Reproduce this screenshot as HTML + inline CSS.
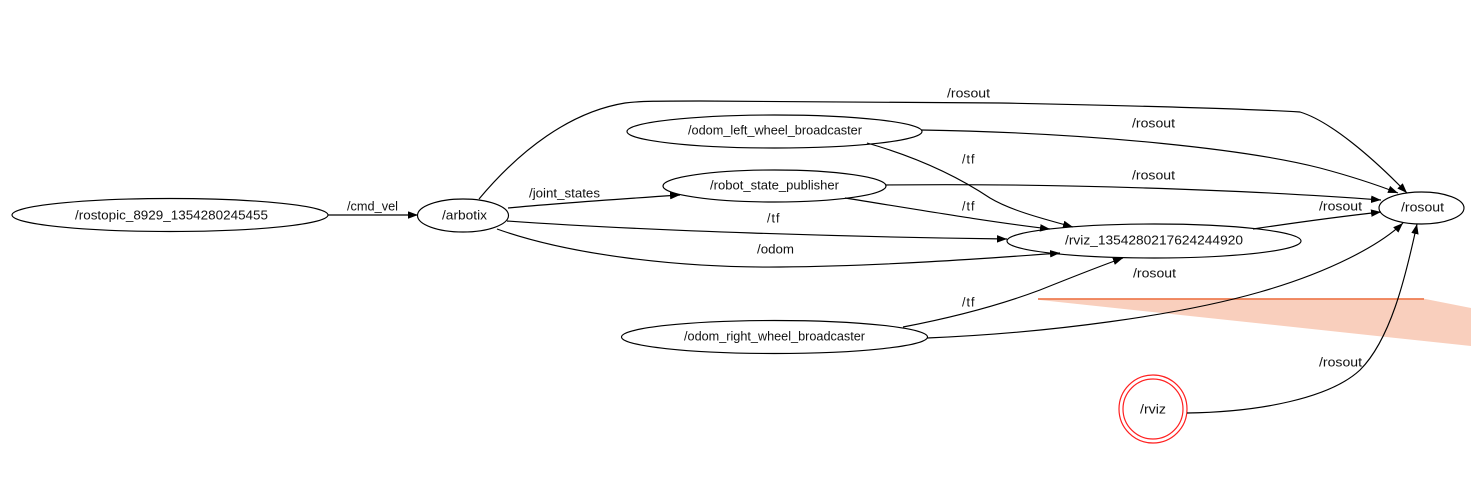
<!DOCTYPE html>
<html>
<head>
<meta charset="utf-8">
<style>
  html,body{margin:0;padding:0;background:#fff;}
  svg{display:block;}
  text{font-family:"Liberation Sans",sans-serif;font-size:12.5px;fill:#111;}
</style>
</head>
<body>
<svg width="1471" height="491" viewBox="0 0 1471 491" xmlns="http://www.w3.org/2000/svg">
  <defs>
    <marker id="a" markerWidth="10" markerHeight="8" refX="10" refY="3.75" orient="auto" markerUnits="userSpaceOnUse">
      <polygon points="0,0 10,3.75 0,7.5" fill="#000"/>
    </marker>
  </defs>
  <rect width="1471" height="491" fill="#fff"/>

  <!-- orange band -->
  <polygon points="1038,299 1423,298.5 1433,300.5 1471,308 1471,346 1040,300" fill="#f9cfbd"/>
  <line x1="1038" y1="299" x2="1424" y2="299" stroke="#ee7d52" stroke-width="1.8"/>

  <g fill="none" stroke="#000" stroke-width="1.15">
    <!-- nodes -->
    <ellipse cx="170" cy="215" rx="158" ry="16.5"/>
    <ellipse cx="463" cy="215.5" rx="45.5" ry="16.5"/>
    <ellipse cx="774.5" cy="131.5" rx="147.5" ry="16.5"/>
    <ellipse cx="774.5" cy="186" rx="111.5" ry="16"/>
    <ellipse cx="1154" cy="241" rx="147" ry="17"/>
    <ellipse cx="1421.5" cy="208" rx="42.5" ry="16"/>
    <ellipse cx="774.5" cy="337" rx="153" ry="16.5"/>
  </g>
  <circle cx="1153" cy="409" r="34" fill="none" stroke="#ff2020" stroke-width="1.2"/>
  <circle cx="1153" cy="409" r="30" fill="none" stroke="#ff2020" stroke-width="1.2"/>

  <g fill="none" stroke="#000" stroke-width="1.15" marker-end="url(#a)">
    <path d="M328,215 L418,215"/>
    <path d="M508,208 C560,203 620,199 680,195"/>
    <path d="M507,221 C650,231 850,237 1007,239"/>
    <path d="M497,229 C570,255 680,268 780,267 C880,266 980,259 1060,253"/>
    <path d="M479,199 C520,150 570,112 625,103 C640,101 660,101 700,101 L1000,103 C1150,106 1250,109 1300,112 C1330,121 1372,157 1407,193"/>
    <path d="M921,130 C1100,133 1250,150 1320,168 C1350,176 1380,186 1398,193"/>
    <path d="M867,143 C920,158 960,178 990,198 C1010,210 1040,218 1073,227"/>
    <path d="M886,185 C1050,183 1250,190 1381,200"/>
    <path d="M845,198 C920,210 990,222 1050,229"/>
    <path d="M1253,229 C1300,222 1345,216 1381,212"/>
    <path d="M903,327 C950,318 1000,305 1040,290 C1070,278 1100,266 1123,258"/>
    <path d="M927,338 C1050,333 1180,315 1260,292 C1330,272 1380,245 1403,223"/>
    <path d="M1187,413 C1260,412 1330,398 1360,370 C1390,340 1405,280 1417,224"/>
  </g>

  <!-- node labels -->
  <text x="75" y="219.5" textLength="193" lengthAdjust="spacingAndGlyphs">/rostopic_8929_1354280245455</text>
  <text x="442" y="219.5" textLength="45" lengthAdjust="spacingAndGlyphs">/arbotix</text>
  <text x="688" y="134.5" textLength="174" lengthAdjust="spacingAndGlyphs">/odom_left_wheel_broadcaster</text>
  <text x="710" y="189.5" textLength="129" lengthAdjust="spacingAndGlyphs">/robot_state_publisher</text>
  <text x="1065" y="244.5" textLength="178" lengthAdjust="spacingAndGlyphs">/rviz_1354280217624244920</text>
  <text x="1401" y="211.5" textLength="43" lengthAdjust="spacingAndGlyphs">/rosout</text>
  <text x="684" y="340.5" textLength="181" lengthAdjust="spacingAndGlyphs">/odom_right_wheel_broadcaster</text>
  <text x="1140" y="413.5" textLength="26" lengthAdjust="spacingAndGlyphs">/rviz</text>

  <!-- edge labels -->
  <text x="347" y="210.5" textLength="51" lengthAdjust="spacingAndGlyphs">/cmd_vel</text>
  <text x="529" y="197.5" textLength="71" lengthAdjust="spacingAndGlyphs">/joint_states</text>
  <text x="767" y="222.5" letter-spacing="1">/tf</text>
  <text x="757" y="253.5" textLength="37" lengthAdjust="spacingAndGlyphs">/odom</text>
  <text x="947" y="97.5" textLength="43" lengthAdjust="spacingAndGlyphs">/rosout</text>
  <text x="1132" y="127.5" textLength="43" lengthAdjust="spacingAndGlyphs">/rosout</text>
  <text x="962" y="163.5" letter-spacing="1">/tf</text>
  <text x="1132" y="179.5" textLength="43" lengthAdjust="spacingAndGlyphs">/rosout</text>
  <text x="962" y="210.5" letter-spacing="1">/tf</text>
  <text x="1319" y="210.5" textLength="43" lengthAdjust="spacingAndGlyphs">/rosout</text>
  <text x="1133" y="277.5" textLength="43" lengthAdjust="spacingAndGlyphs">/rosout</text>
  <text x="962" y="306.5" letter-spacing="1">/tf</text>
  <text x="1319" y="366.5" textLength="43" lengthAdjust="spacingAndGlyphs">/rosout</text>
</svg>
</body>
</html>
